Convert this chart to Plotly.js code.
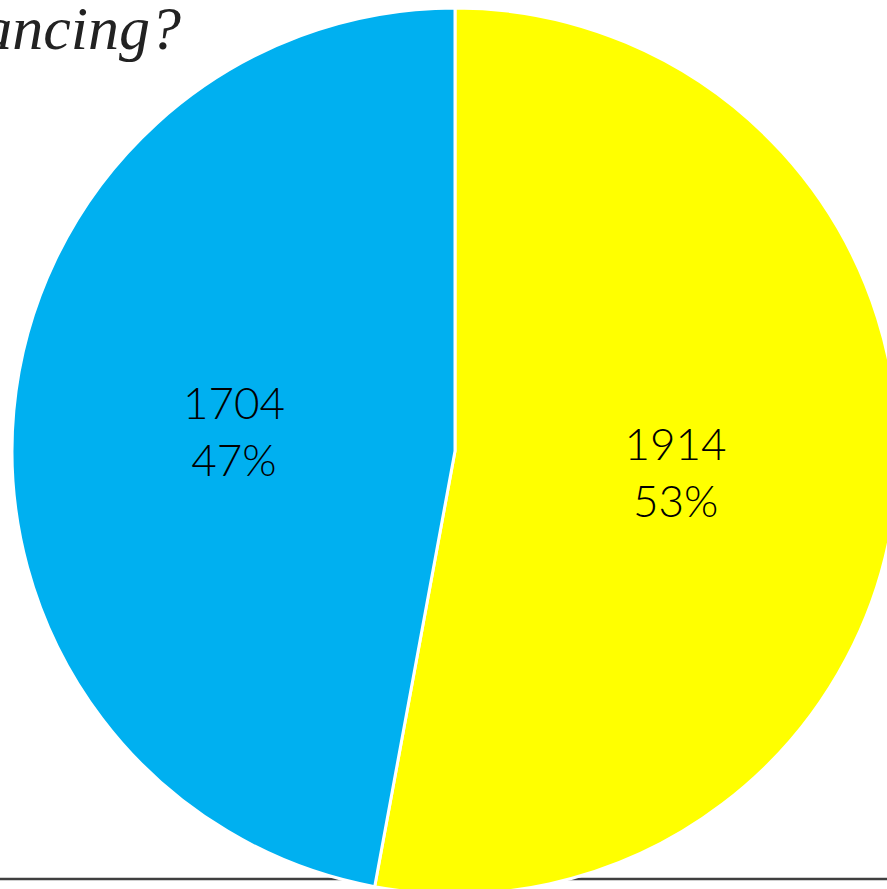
<!DOCTYPE html>
<html>
<head>
<meta charset="utf-8">
<script src="https://cdn.plot.ly/plotly-3.0.1.min.js"></script>
<style>
html,body{margin:0;padding:0;overflow:hidden;background:#fff;width:887px;height:889px;}
#chart{width:910px;height:900px;}
</style>
</head>
<body>
<div id="chart"></div>
<script>
var categories = ['Yes', 'No'];
var values = [1914, 1704];
var colors = ['#FFFF00', '#00B0F0'];
var titleText = 'Social distancing?';

var W = 910, H = 900;
var cx = 455, cy = 451, r = 443;

var data = [{
  type: 'pie',
  labels: categories,
  values: values,
  sort: false,
  direction: 'clockwise',
  rotation: 0,
  textinfo: 'value+percent',
  texttemplate: '%{value}<br>%{percent:.0%}',
  textposition: 'inside',
  insidetextorientation: 'horizontal',
  textfont: {family: 'Lato, "Open Sans", sans-serif', size: 44, color: '#000000', weight: 300},
  marker: {colors: colors, line: {color: '#ffffff', width: 3}},
  domain: {x: [(cx - r) / W, (cx + r) / W], y: [(H - cy - r) / H, (H - cy + r) / H]},
  showlegend: false,
  hoverinfo: 'none'
}];

var layout = {
  width: W,
  height: H,
  margin: {l: 0, r: 0, t: 0, b: 0, pad: 0},
  paper_bgcolor: '#ffffff',
  plot_bgcolor: '#ffffff',
  showlegend: false,
  title: {
    text: titleText,
    font: {family: '"Liberation Serif", "DejaVu Serif", serif', size: 62, color: '#222222', style: 'italic'},
    xref: 'paper', yref: 'container',
    x: 181 / W, xanchor: 'right',
    y: 1 - 27 / H, yanchor: 'middle'
  },
  shapes: [{
    type: 'line', xref: 'paper', yref: 'paper', layer: 'below',
    x0: 0, x1: 1, y0: (H - 879) / H, y1: (H - 879) / H,
    line: {color: '#404040', width: 2.5}
  }]
};

Plotly.newPlot('chart', data, layout, {displayModeBar: false, staticPlot: true});
</script>
</body>
</html>
